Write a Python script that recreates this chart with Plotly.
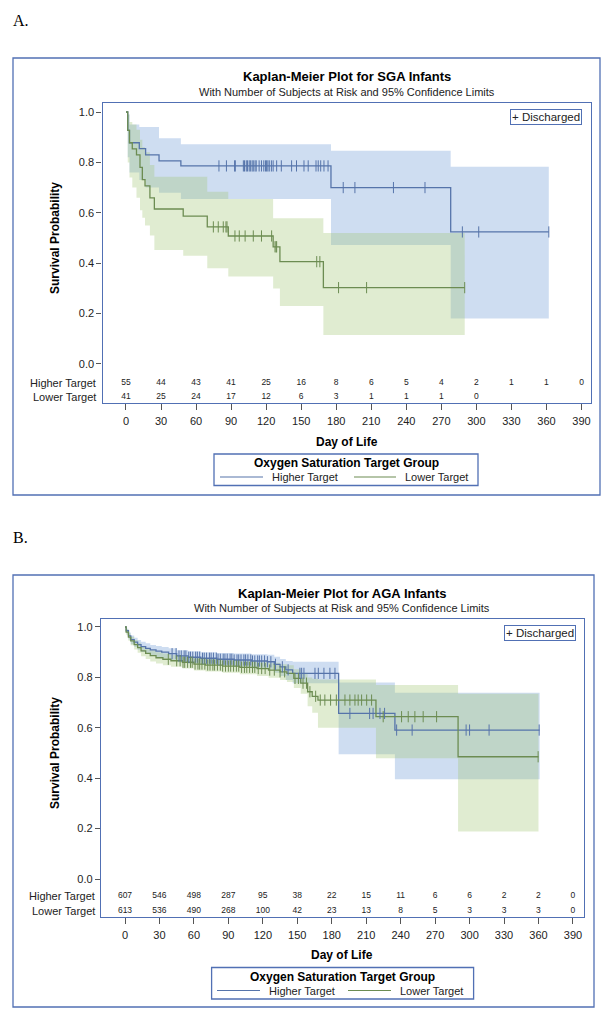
import bisect
import plotly.graph_objects as go

W, H = 610, 1021
OFF = 8  # the page body has an 8px default margin; positions below are window pixels
FONT = "Liberation Sans, Arial, sans-serif"
SERIF = "Liberation Serif, Times New Roman, serif"
FRAME = "#5170b4"
BLUE = "#5674aa"
GREEN = "#6c8c52"
BLUE_FILL = "rgba(110,155,215,0.34)"
GREEN_FILL = "rgba(165,200,120,0.34)"
TXT = "#222222"

# ---------------- data ----------------
day_ticks = [0, 30, 60, 90, 120, 150, 180, 210, 240, 270, 300, 330, 360, 390]
surv_ticks = [0.0, 0.2, 0.4, 0.6, 0.8, 1.0]
group_names = ["Higher Target", "Lower Target"]

# Panel A: SGA infants
a_risk_high = [55, 44, 43, 41, 25, 16, 8, 6, 5, 4, 2, 1, 1, 0]
a_risk_low = [41, 25, 24, 17, 12, 6, 3, 1, 1, 1, 0]

a_hi_t = [0, 1.5, 3, 11.4, 16.8, 28.3, 47, 175.5, 278, 362]
a_hi_s = [1.0, 0.927, 0.878, 0.855, 0.830, 0.806, 0.786, 0.700, 0.524, 0.524]
a_hi_up = [1.0, 0.99, 0.95, 0.94, 0.94, 0.896, 0.872, 0.846, 0.783, 0.783]
a_hi_lo = [1.0, 0.82, 0.76, 0.73, 0.70, 0.68, 0.655, 0.472, 0.181, 0.181]
a_hi_cens = [79.6, 86, 93, 93.6, 100.5, 101.5, 103, 104, 105.5, 106.5, 108, 109,
             110.5, 111.5, 114, 116, 118, 119.5, 120.4, 121.5, 122.7, 124.5, 126,
             129, 133, 141.8, 146, 152.4, 156, 162.7, 164.6, 166.7, 169.5, 173,
             186, 196, 229, 256, 288, 302, 362]

a_lo_t = [0, 1.5, 3, 5.4, 9, 12, 14, 16.3, 20.5, 24.3, 49, 69.6, 87.6, 126, 131.8, 169, 290]
a_lo_s = [1.0, 0.927, 0.878, 0.854, 0.83, 0.78, 0.732, 0.707, 0.659, 0.615, 0.587,
          0.544, 0.508, 0.465, 0.406, 0.303, 0.303]
a_lo_up = [1.0, 0.99, 0.96, 0.95, 0.93, 0.89, 0.86, 0.84, 0.79, 0.743, 0.743, 0.684,
           0.655, 0.578, 0.578, 0.52, 0.52]
a_lo_lo = [1.0, 0.80, 0.74, 0.70, 0.66, 0.61, 0.58, 0.55, 0.51, 0.452, 0.43, 0.38,
           0.347, 0.30, 0.23, 0.115, 0.115]
a_lo_cens = [74.8, 79, 83.3, 85.6, 86.5, 93.3, 97, 102, 109, 116, 124.7, 127.6,
             128.5, 129, 163.3, 166, 182, 206, 290]

# Panel B: AGA infants
b_risk_high = [607, 546, 498, 287, 95, 38, 22, 15, 11, 6, 6, 2, 2, 0]
b_risk_low = [613, 536, 490, 268, 100, 42, 23, 13, 8, 5, 3, 3, 3, 0]

b_hi_t = [0, 1, 3, 5, 8, 11, 14, 18, 22, 27, 32, 38, 45, 55, 66, 80, 95, 110, 124,
          130, 135, 140, 146, 186, 235, 361]
b_hi_s = [1.0, 0.985, 0.965, 0.95, 0.94, 0.93, 0.922, 0.915, 0.909, 0.904, 0.90,
          0.894, 0.885, 0.880, 0.876, 0.872, 0.869, 0.865, 0.862, 0.852, 0.842, 0.83,
          0.816, 0.657, 0.591, 0.591]
b_hi_up = [1.0, 0.993, 0.978, 0.966, 0.957, 0.948, 0.941, 0.935, 0.929, 0.925, 0.921,
           0.916, 0.908, 0.904, 0.90, 0.897, 0.895, 0.892, 0.890, 0.882, 0.873, 0.865,
           0.862, 0.78, 0.739, 0.739]
b_hi_lo = [1.0, 0.975, 0.95, 0.932, 0.921, 0.91, 0.901, 0.893, 0.887, 0.881, 0.877,
           0.87, 0.86, 0.854, 0.849, 0.845, 0.841, 0.835, 0.831, 0.818, 0.806, 0.79,
           0.777, 0.495, 0.396, 0.396]
b_hi_cens = [41, 44.5, 47, 49, 51.5, 53, 55.5, 57, 59, 61.5, 63, 65, 67.5, 69, 71,
             73.5, 75, 77, 79.5, 81, 83, 85.5, 87, 89, 91.5, 93, 95, 97.5, 99, 101,
             103.5, 105, 107, 109.5, 111, 113, 115.5, 117, 119, 121.5, 124, 127,
             131, 137, 142, 152.3, 153.8, 155.8, 165.4, 168.3, 173.2, 178.4, 182.8,
             195.8, 213, 216, 222, 226, 236.5, 250, 297, 300, 317, 360.6]

b_lo_t = [0, 1, 3, 5, 8, 11, 14, 18, 22, 27, 33, 40, 50, 60, 70, 85, 100, 115, 125,
          135, 141, 147, 153, 159, 163, 168, 218.5, 290, 360]
b_lo_s = [1.0, 0.98, 0.96, 0.945, 0.93, 0.918, 0.905, 0.895, 0.886, 0.878, 0.872,
          0.866, 0.86, 0.853, 0.849, 0.845, 0.84, 0.835, 0.829, 0.822, 0.816, 0.796,
          0.777, 0.743, 0.725, 0.71, 0.644, 0.485, 0.485]
b_lo_up = [1.0, 0.99, 0.974, 0.961, 0.948, 0.937, 0.925, 0.916, 0.908, 0.90, 0.895,
           0.889, 0.884, 0.878, 0.874, 0.871, 0.867, 0.863, 0.858, 0.852, 0.848, 0.832,
           0.818, 0.80, 0.795, 0.792, 0.77, 0.735, 0.735]
b_lo_lo = [1.0, 0.969, 0.945, 0.928, 0.911, 0.898, 0.884, 0.873, 0.863, 0.855, 0.848,
           0.842, 0.835, 0.827, 0.823, 0.818, 0.812, 0.806, 0.799, 0.79, 0.782, 0.758,
           0.735, 0.685, 0.66, 0.60, 0.479, 0.188, 0.188]
b_lo_cens = [37.7, 45, 48, 50.5, 52, 54.5, 57, 58.5, 61, 63.5, 65, 67, 69.5, 72, 74,
             76.5, 78, 80.5, 83, 85, 87.5, 90, 92, 94.5, 97, 99, 101.5, 104, 106,
             108.5, 111, 113, 116, 119, 122, 126, 130, 135, 139, 148, 151, 155, 158,
             161, 166, 170, 174, 179, 184, 191.5, 195.8, 200.2, 203, 206, 210.4,
             214.7, 224.8, 240.8, 246.6, 252.4, 259.6, 271.3, 359.7]

# ---------------- helpers ----------------
def xp(p):
    return (p - OFF) / W


def yp(p):
    return 1 - (p - OFF) / H


def surv_at(t, s, c):
    i = bisect.bisect_right(t, c) - 1
    return s[max(i, 0)]


panels = [
    dict(xa="x", ya="y", letter="A.",
         title="Kaplan-Meier Plot for SGA Infants",
         fl=102.5, fr=590.5, ft=103, fb=403,
         xr=[-20.1, 397.7], yr=[-0.1548, 1.0357], rows=[-0.0754, -0.131],
         title_y=76, sub_y=92, day_y=442, box=(13, 58, 600, 495),
         letter_y=20, disc=(582, 109), sp_y=238,
         leg=dict(x0=214, x1=478, top=454, l1=(220, 263), t1=270, l2=(354, 396), t2=403),
         hi=(a_hi_t, a_hi_s, a_hi_up, a_hi_lo, a_hi_cens),
         lo=(a_lo_t, a_lo_s, a_lo_up, a_lo_lo, a_lo_cens),
         risk=(a_risk_high, a_risk_low)),
    dict(xa="x2", ya="y2", letter="B.",
         title="Kaplan-Meier Plot for AGA Infants",
         fl=101, fr=583.5, ft=619, fb=917,
         xr=[-20.9, 399.2], yr=[-0.1508, 1.0317], rows=[-0.0675, -0.127],
         title_y=593, sub_y=608, day_y=955, box=(13, 575, 594, 1007),
         letter_y=537, disc=(576, 625), sp_y=753,
         leg=dict(x0=211.6, x1=473.6, top=967.5, l1=(217, 260), t1=267, l2=(348, 391), t2=398),
         hi=(b_hi_t, b_hi_s, b_hi_up, b_hi_lo, b_hi_cens),
         lo=(b_lo_t, b_lo_s, b_lo_up, b_lo_lo, b_lo_cens),
         risk=(b_risk_high, b_risk_low)),
]

fig = go.Figure()
annotations = []
shapes = []
layout_axes = {}

for k, P in enumerate(panels):
    xa, ya = P["xa"], P["ya"]
    groups = [(P["hi"], BLUE, BLUE_FILL, group_names[0]),
              (P["lo"], GREEN, GREEN_FILL, group_names[1])]
    # confidence bands
    for (t, s, up, lo, cens), col, fillc, name in groups:
        fig.add_trace(go.Scatter(x=t, y=up, mode="lines", xaxis=xa, yaxis=ya,
                                 line=dict(width=0, shape="hv", color=fillc),
                                 showlegend=False, hoverinfo="skip"))
        fig.add_trace(go.Scatter(x=t, y=lo, mode="lines", xaxis=xa, yaxis=ya,
                                 line=dict(width=0, shape="hv", color=fillc),
                                 fill="tonexty", fillcolor=fillc,
                                 showlegend=False, hoverinfo="skip"))
    # survival lines
    for (t, s, up, lo, cens), col, fillc, name in groups:
        fig.add_trace(go.Scatter(x=t, y=s, mode="lines", xaxis=xa, yaxis=ya,
                                 line=dict(width=1.3, shape="hv", color=col),
                                 name=name, showlegend=False))
    # censored marks
    for (t, s, up, lo, cens), col, fillc, name in groups:
        fig.add_trace(go.Scatter(x=cens, y=[surv_at(t, s, c) for c in cens],
                                 mode="markers", xaxis=xa, yaxis=ya,
                                 marker=dict(symbol="line-ns", size=8,
                                             line=dict(width=1, color=col), color=col),
                                 name=name + " (discharged)",
                                 showlegend=False, hoverinfo="skip"))
    # at-risk table
    for r, risk in enumerate(P["risk"]):
        fig.add_trace(go.Scatter(x=day_ticks[:len(risk)], y=[P["rows"][r]] * len(risk),
                                 mode="text", text=[str(v) for v in risk],
                                 textposition="middle center",
                                 textfont=dict(size=8.5, color=TXT, family=FONT),
                                 xaxis=xa, yaxis=ya, showlegend=False, hoverinfo="skip"))
        annotations.append(dict(text=group_names[r], xref="paper", yref=ya,
                                x=xp(P["fl"] - 4.5), y=P["rows"][r], xanchor="right",
                                yanchor="middle", showarrow=False,
                                font=dict(size=11, color=TXT, family=FONT)))

    xname = "xaxis" if k == 0 else "xaxis2"
    yname = "yaxis" if k == 0 else "yaxis2"
    layout_axes[xname] = dict(
        domain=[xp(P["fl"]), xp(P["fr"])], anchor=ya, range=P["xr"],
        tickvals=day_ticks, ticks="outside", ticklen=6, tickcolor="#555",
        tickfont=dict(size=11, color=TXT, family=FONT), ticklabelstandoff=2,
        showline=True, mirror=True, linecolor=FRAME, linewidth=1.3,
        showgrid=False, zeroline=False, fixedrange=True, automargin=False)
    layout_axes[yname] = dict(
        domain=[yp(P["fb"]), yp(P["ft"])], anchor=xa, range=P["yr"],
        tickvals=surv_ticks, ticktext=["%.1f" % v for v in surv_ticks],
        ticks="outside", ticklen=5, tickcolor="#555",
        tickfont=dict(size=11, color=TXT, family=FONT),
        showline=True, mirror=True, linecolor=FRAME, linewidth=1.3,
        showgrid=False, zeroline=False, fixedrange=True, automargin=False)

    cx = (P["fl"] + P["fr"]) / 2
    annotations += [
        dict(text="<b>" + P["title"] + "</b>", xref="paper", yref="paper",
             x=xp(cx), y=yp(P["title_y"]), xanchor="center", yanchor="middle",
             showarrow=False, font=dict(size=13, color="#000", family=FONT)),
        dict(text="With Number of Subjects at Risk and 95% Confidence Limits",
             xref="paper", yref="paper", x=xp(cx), y=yp(P["sub_y"]),
             xanchor="center", yanchor="middle", showarrow=False,
             font=dict(size=11, color=TXT, family=FONT)),
        dict(text="<b>Day of Life</b>", xref="paper", yref="paper", x=xp(cx),
             y=yp(P["day_y"]), xanchor="center", yanchor="middle", showarrow=False,
             font=dict(size=12, color="#000", family=FONT)),
        dict(text="<b>Survival Probability</b>", xref="paper", yref="paper",
             x=xp(55), y=yp(P["sp_y"]), xanchor="center", yanchor="middle",
             textangle=-90, showarrow=False,
             font=dict(size=12, color="#000", family=FONT)),
        dict(text=P["letter"], xref="paper", yref="paper", x=xp(11),
             y=yp(P["letter_y"]), xanchor="left", yanchor="middle", showarrow=False,
             font=dict(size=16, color="#000", family=SERIF)),
        dict(text="+ Discharged", xref="paper", yref="paper", x=xp(P["disc"][0]),
             y=yp(P["disc"][1]), xanchor="right", yanchor="top", showarrow=False,
             bordercolor=FRAME, borderwidth=1, borderpad=1, bgcolor="white",
             font=dict(size=11.5, color=TXT, family=FONT)),
    ]
    bx0, by0, bx1, by1 = P["box"]
    shapes.append(dict(type="rect", xref="paper", yref="paper", x0=xp(bx0),
                       x1=xp(bx1), y0=yp(by1), y1=yp(by0),
                       line=dict(color=FRAME, width=1.3)))

    # group legend box
    L = P["leg"]
    top = L["top"]
    shapes.append(dict(type="rect", xref="paper", yref="paper", x0=xp(L["x0"]),
                       x1=xp(L["x1"]), y0=yp(top + 31.5), y1=yp(top),
                       line=dict(color=FRAME, width=1.3), fillcolor="white"))
    annotations.append(dict(text="<b>Oxygen Saturation Target Group</b>",
                            xref="paper", yref="paper",
                            x=xp((L["x0"] + L["x1"]) / 2), y=yp(top + 9),
                            xanchor="center", yanchor="middle", showarrow=False,
                            font=dict(size=12, color="#000", family=FONT)))
    for (lx0, lx1), tx, col, name in [(L["l1"], L["t1"], BLUE, group_names[0]),
                                      (L["l2"], L["t2"], GREEN, group_names[1])]:
        shapes.append(dict(type="line", xref="paper", yref="paper", x0=xp(lx0),
                           x1=xp(lx1), y0=yp(top + 23), y1=yp(top + 23),
                           line=dict(color=col, width=1.1)))
        annotations.append(dict(text=name, xref="paper", yref="paper", x=xp(tx),
                                y=yp(top + 23), xanchor="left", yanchor="middle",
                                showarrow=False,
                                font=dict(size=11, color=TXT, family=FONT)))

fig.update_layout(
    width=W, height=H, margin=dict(l=0, r=0, t=0, b=0),
    paper_bgcolor="white", plot_bgcolor="white", showlegend=False,
    font=dict(family=FONT), annotations=annotations, shapes=shapes,
    **layout_axes)

fig.write_html("out.html")
